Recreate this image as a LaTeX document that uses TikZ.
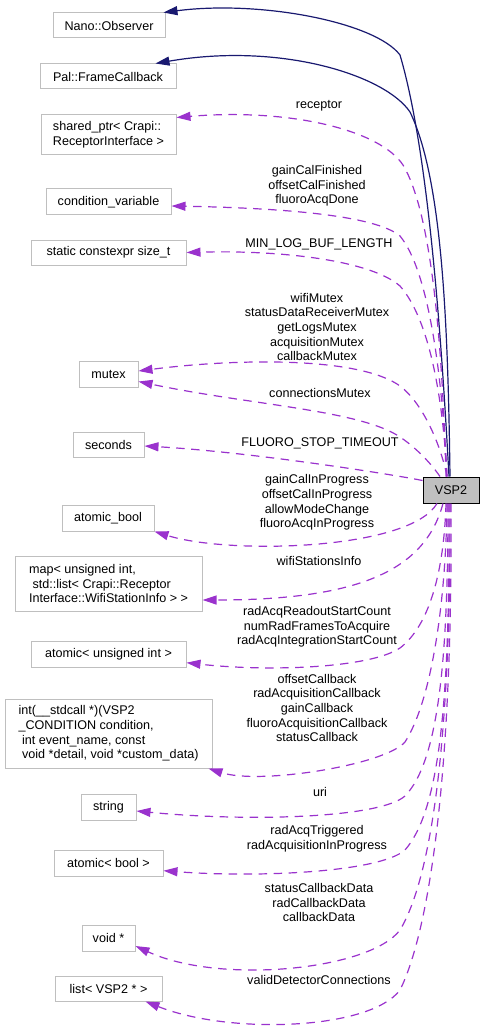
\documentclass[tikz,border=0pt]{standalone}
\usepackage{fontspec}
\setmainfont{Liberation Sans}
\usetikzlibrary{arrows.meta}
\definecolor{edgeblue}{HTML}{191970}
\definecolor{edgepurple}{HTML}{9A32CD}
\definecolor{boxgray}{HTML}{BFBFBF}
\tikzset{
  txt/.style={font=\fontsize{12.6}{14.7}\selectfont},
  box/.style={txt, draw=boxgray, line width=1pt, fill=white, inner sep=0pt, align=left},
  mainbox/.style={txt, draw=black, line width=1pt, fill=boxgray, inner sep=0pt},
  lbl/.style={txt, inner sep=0pt, align=center},
  inh/.style={draw=edgeblue, line width=1.2pt, -{Triangle[length=14pt,width=9pt]}},
  mem/.style={draw=edgepurple, line width=1.2pt, dash pattern=on 8.5pt off 6.5pt, -{Triangle[length=14pt,width=9pt]}}
}
\begin{document}
\begin{tikzpicture}[x=1pt,y=-1pt]
\useasboundingbox (0,0) rectangle (485,1032);
% nodes
\node[box, minimum width=112pt, minimum height=25pt] (nano) at (109,25.5) {Nano::Observer};
\node[box, minimum width=136pt, minimum height=25pt] (pal) at (108,76.5) {Pal::FrameCallback};
\node[box, minimum width=135pt, minimum height=40pt] (sp) at (108.5,135) {shared\_ptr< Crapi::\\ReceptorInterface >};
\node[box, minimum width=125pt, minimum height=26pt] (cv) at (108.5,202) {condition\_variable};
\node[box, minimum width=155pt, minimum height=25pt] (sz) at (108.5,252.5) {static constexpr size\_t};
\node[box, minimum width=59pt, minimum height=26pt] (mx) at (108.5,374) {mutex};
\node[box, minimum width=71pt, minimum height=25pt] (sec) at (108.5,444.5) {seconds};
\node[box, minimum width=92pt, minimum height=26pt] (ab) at (108,518) {atomic\_bool};
\node[box, minimum width=187pt, minimum height=55pt] (map) at (108.5,583.5) {map< unsigned int,\\\ std::list< Crapi::Receptor\\Interface::WifiStationInfo > >};
\node[mainbox, minimum width=56pt, minimum height=26pt] (vsp) at (451,490) {VSP2};
\node[box, minimum width=155pt, minimum height=26pt] (aui) at (108.5,654) {atomic< unsigned int >};
\node[box, minimum width=207pt, minimum height=69pt] (fp) at (108.5,733.5) {int(\_\_stdcall *)(VSP2\\\_CONDITION condition,\\\ int event\_name, const\\\ void *detail, void *custom\_data)};
\node[box, minimum width=55pt, minimum height=26pt] (str) at (108.5,807) {string};
\node[box, minimum width=109pt, minimum height=26pt] (abl) at (108.5,863) {atomic< bool >};
\node[box, minimum width=53pt, minimum height=26pt] (vp) at (108.5,938) {void *};
\node[box, minimum width=107pt, minimum height=25pt] (lst) at (108.5,988.5) {list< VSP2 * >};
% labels
\node[lbl] (l1) at (319,106) {receptor};
\node[lbl] (l2) at (317,186) {gainCalFinished\\offsetCalFinished\\fluoroAcqDone};
\node[lbl] (l3) at (319,244) {MIN\_LOG\_BUF\_LENGTH};
\node[lbl] (l4) at (317,327) {wifiMutex\\statusDataReceiverMutex\\getLogsMutex\\acquisitionMutex\\callbackMutex};
\node[lbl] (l5) at (320,393) {connectionsMutex};
\node[lbl] (l6) at (320,443) {FLUORO\_STOP\_TIMEOUT};
\node[lbl] (l7) at (317,502.5) {gainCalInProgress\\offsetCalInProgress\\allowModeChange\\fluoroAcqInProgress};
\node[lbl] (l8) at (319,561) {wifiStationsInfo};
\node[lbl] (l9) at (317,627) {radAcqReadoutStartCount\\numRadFramesToAcquire\\radAcqIntegrationStartCount};
\node[lbl] (l10) at (317,708) {offsetCallback\\radAcquisitionCallback\\gainCallback\\fluoroAcquisitionCallback\\statusCallback};
\node[lbl] (l11) at (320,792) {uri};
\node[lbl] (l12) at (317,839) {radAcqTriggered\\radAcquisitionInProgress};
\node[lbl] (l13) at (319,902.5) {statusCallbackData\\radCallbackData\\callbackData};
\node[lbl] (l14) at (319,980) {validDetectorConnections};
% inheritance edges
\draw[inh] ([xshift=-2pt]vsp.north) .. controls (441,330) and (428,150) .. (400,55) .. controls (375,22) and (260,0) .. ([xshift=-2pt]nano.north east);
\draw[inh] ([xshift=-1pt]vsp.north) .. controls (448,330) and (443,180) .. (410,112) .. controls (385,75) and (280,42) .. ([xshift=-21pt]pal.north east);
% member edges
\draw[mem] ([xshift=-5pt]vsp.north) .. controls (442,330) and (430,210) .. (403,165) .. controls (380,130) and (290,108) .. ([yshift=-3pt]sp.north east);
\draw[mem] ([xshift=-4pt]vsp.north) .. controls (442,370) and (428,270) .. (400,236) .. controls (375,215) and (280,208) .. ([yshift=-4pt]cv.east);
\draw[mem] ([xshift=-4pt]vsp.north) .. controls (443,400) and (430,320) .. (400,286) .. controls (370,260) and (280,250) .. (sz.east);
\draw[mem] ([xshift=-4pt]vsp.north) .. controls (442,450) and (425,405) .. (400,386) .. controls (360,357) and (240,358) .. ([yshift=3pt]mx.east);
\draw[mem] ([xshift=-11pt]vsp.north) .. controls (430,462) and (415,447) .. (400,437) .. controls (360,410) and (250,405) .. ([yshift=-7.5pt]mx.east);
\draw[mem] ([yshift=-4pt]vsp.north west) .. controls (390,474) and (250,452) .. ([yshift=-1.5pt]sec.east);
\draw[mem] ([xshift=-14pt]vsp.south) .. controls (410,550) and (230,555) .. (ab.south east);
\draw[mem] ([xshift=-8pt]vsp.south) .. controls (425,570) and (360,600) .. ([yshift=-16.5pt]map.east);
\draw[mem] ([xshift=-5pt]vsp.south) .. controls (444,570) and (430,625) .. (400,648) .. controls (370,668) and (270,672) .. ([yshift=-8.7pt]aui.east);
\draw[mem] ([xshift=-4pt]vsp.south) .. controls (446,600) and (432,700) .. (405,742) .. controls (385,765) and (260,785) .. ([xshift=-4pt]fp.south east);
\draw[mem] ([xshift=-3pt]vsp.south) .. controls (448,650) and (440,760) .. (405,796) .. controls (380,818) and (250,822) .. ([yshift=-4pt]str.east);
\draw[mem] ([xshift=-2pt]vsp.south) .. controls (450,700) and (440,810) .. (405,850) .. controls (380,872) and (260,878) .. ([yshift=-7.7pt]abl.east);
\draw[mem] ([xshift=-1pt]vsp.south) .. controls (451,750) and (430,880) .. (400,930) .. controls (370,970) and (220,985) .. ([yshift=-8pt]vp.east);
\draw[mem] ([xshift=0pt]vsp.south) .. controls (453,800) and (425,940) .. (400,990) .. controls (370,1030) and (230,1035) .. ([xshift=-17pt]lst.south east);
\end{tikzpicture}
\end{document}
